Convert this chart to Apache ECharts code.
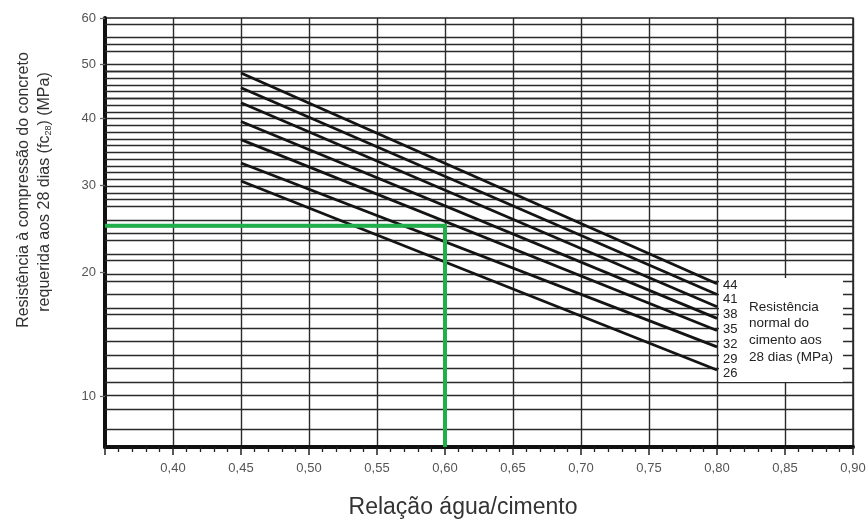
<!DOCTYPE html>
<html>
<head>
<meta charset="utf-8">
<script src="https://cdn.jsdelivr.net/npm/echarts@6/dist/echarts.min.js"></script>
<style>
html,body{margin:0;padding:0;background:#fff;}
#chart{width:867px;height:520px;}
</style>
</head>
<body>
<div id="chart"></div>
<script>
// ---- data ----
const cementClasses = ['44', '41', '38', '35', '32', '29', '26'];   // MPa, top to bottom
const wcStart = 0.45;                                                 // a/c where the lines start
const wcEnd = 0.80;                                                   // a/c where the lines end
const fcAtStart = [48.2, 45.4, 42.7, 39.5, 36.6, 33.1, 30.6];         // MPa at a/c = 0.45
const fcAtEnd = [18.9, 17.9, 16.8, 15.8, 14.8, 13.5, 11.8];           // MPa at a/c = 0.80
const yTickValues = [10, 20, 30, 40, 50, 60];
const yGridValues = [8, 9, 10, 11, 12, 13, 14, 15, 16, 17, 18, 19, 20, 21, 22, 23, 24, 25, 26, 27, 28, 29, 30,
  31, 32, 33, 34, 35, 36, 37, 38, 39, 40, 41, 42, 43, 44, 45, 46, 47, 48, 49, 50, 52, 54, 56, 58];
const yMin = 7, yMax = 60;
const xMin = 0.35, xMax = 0.90, xStep = 0.05;
const exampleFc = 25;      // green guide: fc28 required
const exampleWc = 0.60;    // green guide: resulting a/c

// printed (non-decimal-log) ordinate scale of the nomogram: log10(fc + 9)
const T = v => Math.log10(v + 9);
const Tinv = t => Math.pow(10, t) - 9;

const chart = echarts.init(document.getElementById('chart'));

const diagSeries = cementClasses.map((c, i) => ({
  name: c,
  type: 'line',
  data: [[wcStart, T(fcAtStart[i])], [wcEnd, T(fcAtEnd[i])]],
  symbol: 'none',
  lineStyle: { color: '#141414', width: 2.8 },
  z: 5,
  silent: true
}));

const option = {
  animation: false,
  grid: {
    left: 105, right: 14, top: 18, bottom: 73,
    show: true, borderColor: '#222', borderWidth: 1.5,
    outerBoundsMode: 'none'
  },
  xAxis: {
    type: 'value', min: xMin, max: xMax, interval: xStep,
    axisLine: { show: true, onZero: false, lineStyle: { color: '#111', width: 4 } },
    axisTick: { show: true, length: 8, lineStyle: { color: '#222', width: 1.5 } },
    minorTick: { show: true, splitNumber: 5, length: 5, lineStyle: { color: '#222', width: 1.3 } },
    axisLabel: {
      showMinLabel: false, margin: 15, color: '#555', fontSize: 13,
      fontFamily: 'Liberation Sans, Arial, sans-serif',
      formatter: v => v.toFixed(2).replace('.', ',')
    },
    splitLine: { show: true, lineStyle: { color: '#2a2a2a', width: 1.4 } }
  },
  yAxis: {
    type: 'value', min: T(yMin), max: T(yMax),
    axisLine: { show: true, onZero: false, lineStyle: { color: '#111', width: 4 } },
    axisTick: { show: true, length: 5, customValues: yTickValues.map(T), lineStyle: { color: '#666', width: 1.3 } },
    axisLabel: {
      customValues: yTickValues.map(T), margin: 9, color: '#555', fontSize: 13,
      fontFamily: 'Liberation Sans, Arial, sans-serif',
      formatter: v => String(Math.round(Tinv(v)))
    },
    splitLine: { show: false }
  },
  series: [
    {
      type: 'line',
      data: [[xMin, T(yMin)]],
      symbol: 'none',
      lineStyle: { opacity: 0 },
      silent: true,
      z: 1,
      markLine: {
        silent: true,
        symbol: ['none', 'none'],
        label: { show: false },
        lineStyle: { color: '#2a2a2a', width: 1.4, type: 'solid' },
        data: yGridValues.map(v => ({ yAxis: T(v) }))
      }
    },
    ...diagSeries,
    {
      name: 'guide',
      type: 'line',
      data: [[xMin, T(exampleFc)], [exampleWc, T(exampleFc)], [exampleWc, T(yMin)]],
      symbol: 'none',
      lineStyle: { color: '#1fb04b', width: 4, cap: 'butt', join: 'miter' },
      z: 8,
      silent: true
    }
  ],
  graphic: [
    { type: 'rect', z: 100, shape: { x: 719, y: 278, width: 124, height: 104 }, style: { fill: '#fff' } },
    ...cementClasses.map((c, i) => ({
      type: 'text', z: 101, x: 723, y: 285 + i * 14.8,
      style: { text: c, fill: '#222', font: '13px Liberation Sans, Arial, sans-serif', verticalAlign: 'middle', align: 'left' }
    })),
    {
      type: 'text', z: 101, x: 749, y: 298.5,
      style: {
        text: 'Resistência\nnormal do\ncimento aos\n28 dias (MPa)',
        fill: '#222', font: '13.5px Liberation Sans, Arial, sans-serif', lineHeight: 16.7,
        verticalAlign: 'top', align: 'left'
      }
    },
    {
      type: 'text', z: 101, x: 463, y: 508,
      style: {
        text: 'Relação água/cimento', fill: '#333',
        font: '23px Liberation Sans, Arial, sans-serif', align: 'center', verticalAlign: 'middle'
      }
    },
    {
      type: 'text', z: 101, x: 24, y: 190, rotation: Math.PI / 2,
      style: {
        text: 'Resistência à compressão do concreto', fill: '#333',
        font: '16px Liberation Sans, Arial, sans-serif', align: 'center', verticalAlign: 'middle'
      }
    },
    {
      type: 'text', z: 101, x: 45, y: 192, rotation: Math.PI / 2,
      style: {
        text: 'requerida aos 28 dias (fc{sub|28}) (MPa)', fill: '#333',
        font: '16px Liberation Sans, Arial, sans-serif', align: 'center', verticalAlign: 'middle',
        rich: { sub: { fontSize: 9, fill: '#333', fontFamily: 'Liberation Sans, Arial, sans-serif', verticalAlign: 'bottom', padding: [6, 0, 0, 0] } }
      }
    }
  ]
};
chart.setOption(option);
</script>
</body>
</html>
